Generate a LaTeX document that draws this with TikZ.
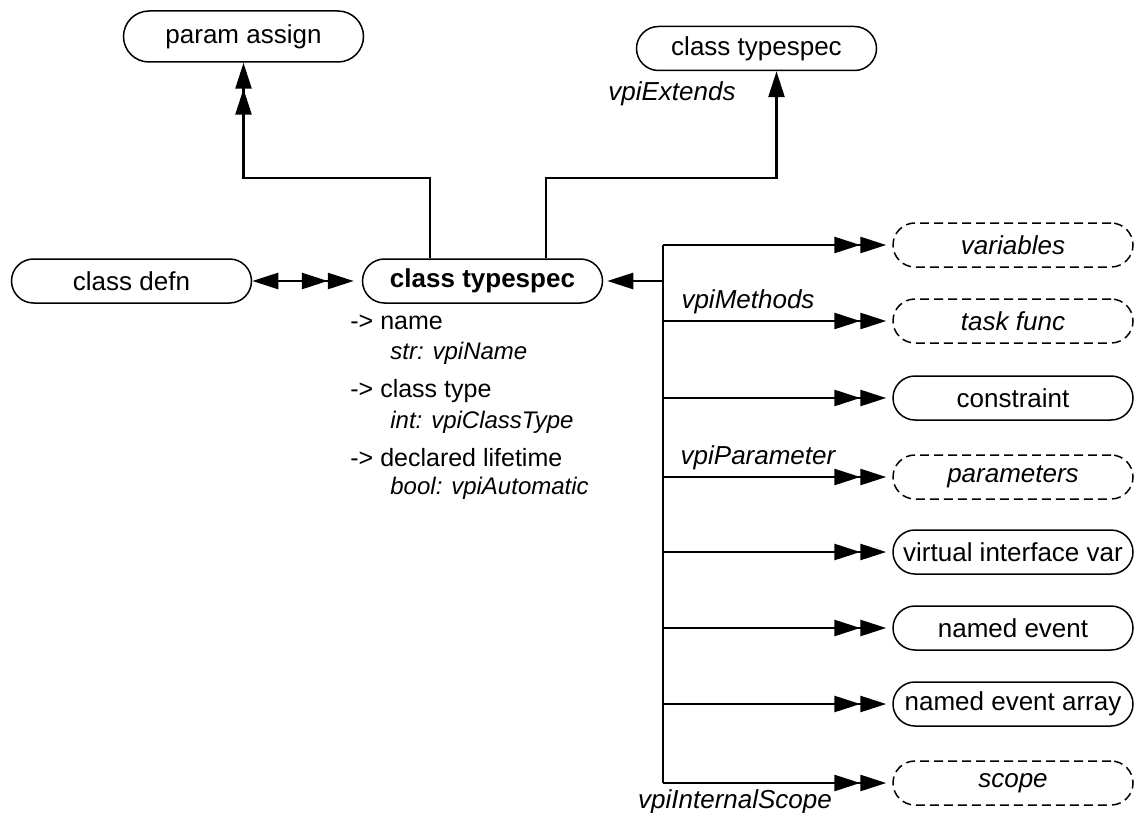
\documentclass[tikz,border=0pt]{standalone}
\usepackage{fontspec}
\setmainfont{Liberation Sans}
\usetikzlibrary{arrows.meta}

\begin{document}
\begin{tikzpicture}[x=0.5pt, y=-0.5pt,
    >={Triangle[length=13pt, width=8pt]},
    obj/.style={draw, line width=0.75pt, rounded corners=11pt,
                minimum width=120pt, minimum height=22pt, inner sep=0pt,
                font=\fontsize{13}{15}\selectfont},
    grp/.style={obj, dash pattern=on 4.5pt off 2.5pt,
                font=\fontsize{13}{15}\selectfont\itshape},
    link/.style={line width=1.3pt},
    bus/.style={line width=0.85pt},
    rel/.style={inner sep=0pt, font=\fontsize{13}{15}\selectfont\itshape},
    attr/.style={anchor=west, inner sep=0pt, font=\fontsize{12.5}{15}\selectfont},
    attrval/.style={anchor=west, inner sep=0pt, font=\fontsize{12}{14}\selectfont\itshape}]
  \useasboundingbox (0,0) rectangle (1136,813);

  \node[obj, minimum height=25.5pt, rounded corners=12.75pt] (pa) at (243.5,36.5) {param assign};
  \node[obj] (ctop) at (756.5,48.5) {class typespec};
  \node[obj] (cdefn) at (131.5,281) {class defn};
  \node[obj, font=\fontsize{13}{15}\selectfont\bfseries] (cts) at (482.5,281) {class typespec};

  \node[grp] (vars) at (1013,245) {variables};
  \node[grp] (tf) at (1013,321) {task func};
  \node[obj] (cons) at (1013,398) {constraint};
  \node[grp] (params) at (1013,477) {parameters};
  \node[obj] (vif) at (1013,552) {virtual interface var};
  \node[obj] (ev) at (1013,628) {named event};
  \node[obj] (evarr) at (1013,704) {named event array};
  \node[grp] (iscope) at (1013,783) {scope};

  \coordinate (ja) at (430,178);
  \coordinate (jb) at (546,178);
  \coordinate (jc) at (663,245);

  \draw[link, ->>] (cts.north -| ja) -- (ja) -| (pa.south);
  \draw[link, ->] (cts.north -| jb) -- (jb) -| ([xshift=10pt]ctop.south);
  \draw[link, <->>, shorten >=4pt] (cdefn) -- (cts);
  \draw[link, ->, shorten >=2pt] (cts.east -| jc) -- (cts.east);
  \draw[bus] (jc) -- (iscope.west -| jc);
  \foreach \n in {vars,tf,cons,params,vif,ev,evarr,iscope}
    \draw[link, ->>, shorten >=3pt] (\n.west -| jc) -- (\n.west);

  \node[rel] (lext) at (672,94) {vpiExtends};
  \node[rel] (lmeth) at (748,302) {vpiMethods};
  \node[rel] (lpar) at (758,458) {vpiParameter};
  \node[rel] (lscope) at (735,802) {vpiInternalScope};

  \node[attr] (aname) at (350,322) {-> name};
  \node[attrval] (vname) at (390,353) {str: vpiName};
  \node[attr] (atype) at (350,391) {-> class type};
  \node[attrval] (vtype) at (390,422) {int: vpiClassType};
  \node[attr] (alife) at (350,458) {-> declared lifetime};
  \node[attrval] (vlife) at (390,488) {bool: vpiAutomatic};
\end{tikzpicture}
\end{document}
